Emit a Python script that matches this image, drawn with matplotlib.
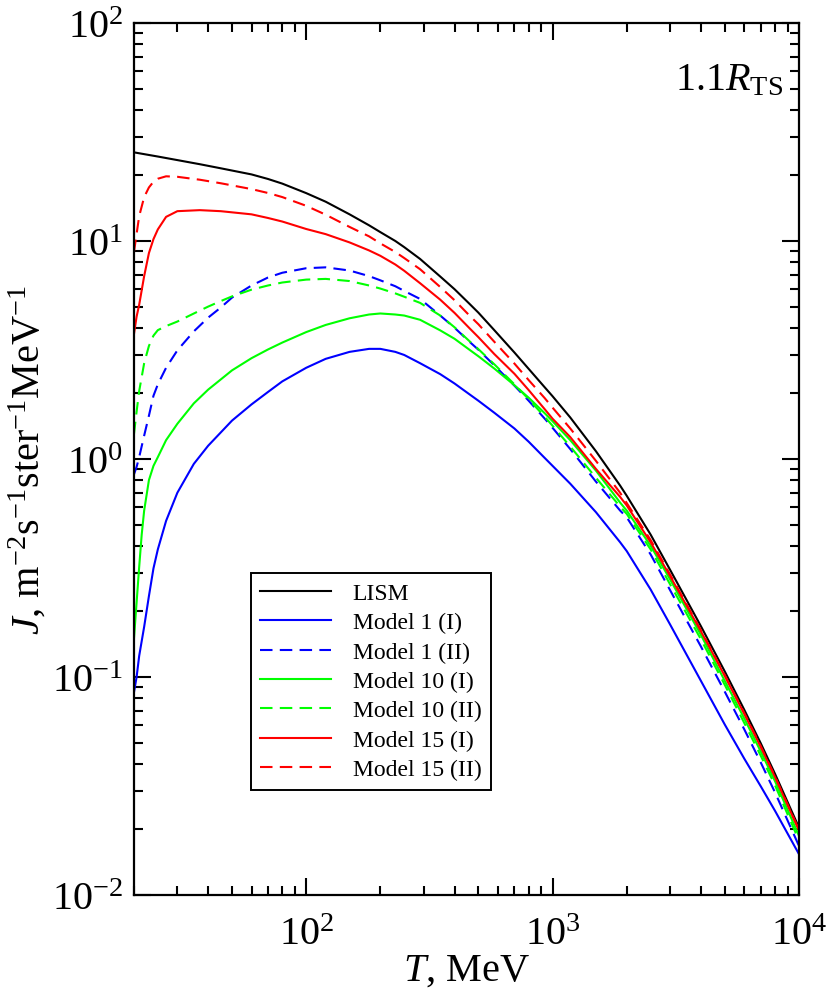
import matplotlib
matplotlib.use("Agg")
import matplotlib.pyplot as plt
from matplotlib.ticker import LogLocator, NullFormatter

plt.rcParams['font.family'] = ['Liberation Serif', 'DejaVu Serif']
plt.rcParams['mathtext.fontset'] = 'custom'
plt.rcParams['mathtext.rm'] = 'Liberation Serif'
plt.rcParams['mathtext.it'] = 'Liberation Serif:italic'
plt.rcParams['mathtext.bf'] = 'Liberation Serif:bold'

# spectra (T in MeV, J in m^-2 s^-1 ster^-1 MeV^-1)
T_lism = [20, 25, 30, 37, 45, 60, 70, 80, 100, 120, 150, 180, 200, 230, 250, 290, 350, 400, 460, 500,
          580, 700, 800, 930, 1000, 1180, 1500, 1880, 2000, 2500, 3000, 4000, 5000, 6000, 7000, 8000, 10000]
J_lism = [25.5, 24.4, 23.5, 22.5, 21.55, 20.2, 19.25, 18.33, 16.58, 15.14, 13.25, 11.8, 10.98, 10.0, 9.37, 8.27, 6.87, 6.01, 5.15, 4.69,
          3.9, 3.08, 2.59, 2.13, 1.94, 1.55, 1.085, 0.755, 0.678, 0.45, 0.31, 0.171, 0.106, 0.0707, 0.0496, 0.0359, 0.0204]

T_m1_I = [20, 20.5, 21, 22, 23, 24, 25, 27, 30, 35, 40, 50, 60, 70, 80, 100, 120, 150, 180, 200, 230, 250, 290, 350, 400, 460,
          500, 580, 700, 800, 930, 1000, 1180, 1500, 1880, 2000, 2500, 3000, 4000, 5000, 6000, 7000, 8000, 10000]
J_m1_I = [0.085, 0.10, 0.125, 0.17, 0.235, 0.315, 0.385, 0.52, 0.70, 0.95, 1.15, 1.5, 1.78, 2.03, 2.27, 2.62, 2.88, 3.1, 3.2, 3.2, 3.1, 3.0, 2.75, 2.45, 2.22, 1.98,
          1.85, 1.63, 1.38, 1.2, 1.01, 0.93, 0.77, 0.57, 0.415, 0.378, 0.252, 0.174, 0.096, 0.0605, 0.0422, 0.0315, 0.0243, 0.0154]

T_m1_II = [20, 20.5, 21, 22, 23, 24, 25, 27, 30, 35, 40, 45, 50, 60, 70, 80, 100, 120, 150, 180, 200, 230, 250, 290, 350, 400, 460,
           500, 580, 700, 800, 930, 1000, 1180, 1500, 1880, 2000, 2500, 3000, 4000, 5000, 6000, 7000, 8000, 10000]
J_m1_II = [0.85, 0.92, 1.02, 1.28, 1.58, 1.95, 2.2, 2.62, 3.15, 3.85, 4.45, 4.95, 5.5, 6.25, 6.8, 7.15, 7.5, 7.57, 7.32, 6.9, 6.6, 6.2, 5.9, 5.42, 4.55, 4.0, 3.45,
           3.17, 2.69, 2.17, 1.85, 1.53, 1.39, 1.11, 0.787, 0.58, 0.54, 0.365, 0.25, 0.138, 0.0856, 0.0575, 0.0405, 0.0295, 0.0168]

T_m10_I = [20, 20.5, 21, 21.5, 22, 23, 24, 25, 27, 30, 35, 40, 50, 60, 70, 80, 100, 120, 150, 180, 200, 230, 250, 290, 350, 400, 460,
           500, 580, 700, 800, 930, 1000, 1180, 1500, 1880, 2000, 2500, 3000, 4000, 5000, 6000, 7000, 8000, 10000]
J_m10_I = [0.15, 0.22, 0.32, 0.45, 0.58, 0.8, 0.93, 1.02, 1.22, 1.45, 1.8, 2.08, 2.55, 2.9, 3.18, 3.42, 3.82, 4.12, 4.42, 4.6, 4.65, 4.6, 4.55, 4.35, 3.89, 3.56, 3.17,
           2.96, 2.6, 2.18, 1.91, 1.62, 1.49, 1.22, 0.884, 0.631, 0.58, 0.40, 0.28, 0.156, 0.096, 0.0645, 0.0455, 0.0332, 0.0187]

T_m10_II = [20, 20.5, 21, 22, 23, 24, 25, 27, 30, 35, 40, 45, 50, 60, 70, 80, 100, 120, 150, 180, 200, 230, 250, 290, 350, 400, 460,
            500, 580, 700, 800, 930, 1000, 1180, 1500, 1880, 2000, 2500, 3000, 4000, 5000, 6000, 7000, 8000, 10000]
J_m10_II = [1.3, 1.65, 2.05, 2.75, 3.3, 3.68, 3.9, 4.07, 4.27, 4.65, 5.0, 5.3, 5.57, 5.98, 6.25, 6.45, 6.65, 6.7, 6.55, 6.25, 6.05, 5.75, 5.55, 5.2, 4.55, 4.02, 3.47,
            3.19, 2.72, 2.2, 1.88, 1.56, 1.42, 1.14, 0.82, 0.605, 0.56, 0.385, 0.266, 0.149, 0.092, 0.0615, 0.0435, 0.0318, 0.0178]

T_m15_I = [20, 20.5, 21, 22, 23, 24, 25, 27, 30, 37, 45, 60, 70, 80, 100, 120, 150, 180, 200, 230, 250, 290, 350, 400, 460,
           500, 580, 700, 800, 930, 1000, 1180, 1500, 1880, 2000, 2500, 3000, 4000, 5000, 6000, 7000, 8000, 10000]
J_m15_I = [3.74, 4.5, 5.1, 6.9, 8.8, 10.2, 11.3, 12.9, 13.7, 13.85, 13.7, 13.25, 12.75, 12.28, 11.35, 10.75, 9.85, 9.05, 8.55, 7.8, 7.3, 6.4, 5.38, 4.68, 3.98,
           3.62, 3.03, 2.46, 2.07, 1.69, 1.53, 1.26, 0.9, 0.67, 0.612, 0.415, 0.29, 0.162, 0.101, 0.0677, 0.0477, 0.0347, 0.0198]

T_m15_II = [20, 21, 22, 23, 24, 25, 27, 30, 37, 45, 60, 70, 80, 100, 120, 150, 180, 200, 230, 250, 290, 350, 400, 460,
            500, 580, 700, 800, 930, 1000, 1180, 1500, 1880, 2000, 2500, 3000, 4000, 5000, 6000, 7000, 8000, 10000]
J_m15_II = [8.9, 13.0, 15.9, 17.6, 18.7, 19.3, 19.8, 19.7, 19.1, 18.4, 17.3, 16.6, 15.9, 14.5, 13.2, 11.6, 10.5, 9.75, 8.9, 8.35, 7.42, 6.15, 5.35, 4.55,
            4.15, 3.45, 2.74, 2.3, 1.9, 1.72, 1.38, 0.98, 0.7, 0.628, 0.425, 0.295, 0.164, 0.102, 0.0683, 0.0481, 0.0349, 0.0199]

fig = plt.figure(figsize=(8.3, 9.95), dpi=100)
ax = fig.add_axes([0.1614, 0.0995, 0.8012, 0.8764])

lw = 1.5
dash = (0, (6, 3.5))
ax.plot(T_lism, J_lism, color='black', lw=lw, label='LISM')
ax.plot(T_m1_I, J_m1_I, color='#0000ff', lw=lw, label='Model 1 (I)')
ax.plot(T_m1_II, J_m1_II, color='#0000ff', lw=lw, ls=dash, label='Model 1 (II)')
ax.plot(T_m10_I, J_m10_I, color='#00ff00', lw=lw, label='Model 10 (I)')
ax.plot(T_m10_II, J_m10_II, color='#00ff00', lw=lw, ls=dash, label='Model 10 (II)')
ax.plot(T_m15_I, J_m15_I, color='#ff0000', lw=lw, label='Model 15 (I)')
ax.plot(T_m15_II, J_m15_II, color='#ff0000', lw=lw, ls=dash, label='Model 15 (II)')

ax.set_xscale('log')
ax.set_yscale('log')
ax.set_xlim(20, 1e4)
ax.set_ylim(1e-2, 1e2)

ax.xaxis.set_major_locator(LogLocator(base=10, numticks=10))
ax.xaxis.set_minor_locator(LogLocator(base=10, subs=range(2, 10), numticks=20))
ax.yaxis.set_minor_locator(LogLocator(base=10, subs=range(2, 10), numticks=20))
ax.xaxis.set_minor_formatter(NullFormatter())
ax.yaxis.set_minor_formatter(NullFormatter())

ax.tick_params(which='both', direction='in', top=True, right=True, width=1.5)
ax.tick_params(which='major', length=12, labelsize=29)
ax.tick_params(axis='x', which='major', pad=15)
ax.tick_params(axis='y', which='major', pad=8)
ax.tick_params(which='minor', length=6.5)
for s in ax.spines.values():
    s.set_linewidth(1.6)

ax.set_xlabel(r'$T$, MeV', fontsize=29, labelpad=-1)
ax.set_ylabel(r'$J$, m$^{-2}$s$^{-1}$ster$^{-1}$MeV$^{-1}$', fontsize=29, labelpad=2)

ax.text(0.976, 0.935, r'1.1$R_{\rm TS}$', transform=ax.transAxes,
        ha='right', va='center', fontsize=29)

leg = ax.legend(loc='upper left', bbox_to_anchor=(0.176, 0.369), borderaxespad=0,
                fontsize=17, frameon=True, fancybox=False, edgecolor='black',
                framealpha=1, handlelength=3.0, handletextpad=0.9,
                labelspacing=0.33, borderpad=0.4)
leg.get_frame().set_linewidth(1.4)

fig.savefig('out.png', dpi=100)
